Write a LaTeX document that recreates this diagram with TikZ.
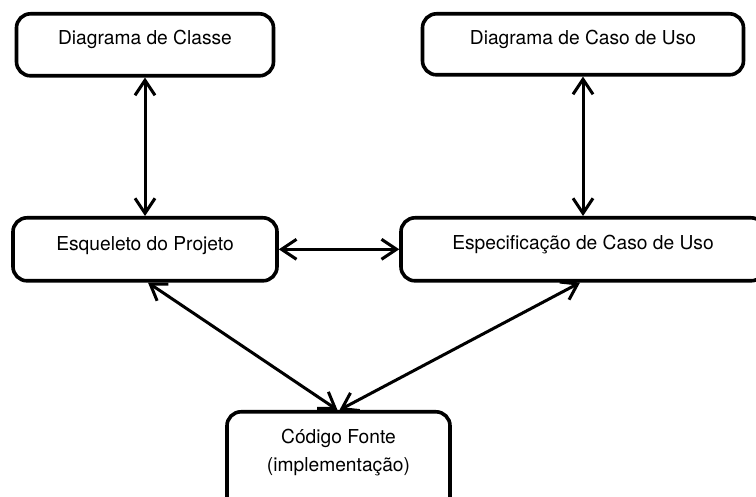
\documentclass[tikz,border=0pt]{standalone}
\usepackage{fontspec}
\setmainfont{TeX Gyre Heros}
\usetikzlibrary{arrows.meta}
\begin{document}
\begin{tikzpicture}[x=1pt,y=-1pt,
  box/.style={draw, line width=3.6pt, rounded corners=14pt, inner sep=0pt,
    anchor=north, font=\fontsize{19.2}{28}\selectfont},
  link/.style={line width=3pt,
    {Straight Barb[length=15pt,width=20pt]}-{Straight Barb[length=15pt,width=20pt]}}]
\useasboundingbox (0,0) rectangle (756,497);
\clip (0,0) rectangle (756,497);
\fill[white] (0,0) rectangle (756,497);
\node[box, minimum width=257pt, text height=31pt, text depth=31pt] (b1) at (145,12) {Diagrama de Classe};
\node[box, minimum width=321pt, text height=31pt, text depth=30pt] (b2) at (583,12) {Diagrama de Caso de Uso};
\node[box, minimum width=264pt, text height=33pt, text depth=30pt] (b3) at (145,216) {Esqueleto do Projeto};
\node[box, minimum width=364pt, text height=32pt, text depth=31pt] (b4) at (583,216) {Especificação de Caso de Uso};
\node[box, minimum width=223pt, text height=32pt, text depth=68pt] (b5) at (338.5,410)
  {\begin{tabular}[t]{@{}c@{}}Código Fonte\\(implementação)\end{tabular}};
\draw[link] (b1.south) -- (b3.north);
\draw[link] (b2.south) -- (b4.north);
\draw[link] (b3.east) -- (b4.west);
\draw[link] ([xshift=3pt]b3.south) -- ([xshift=-1pt]b5.north);
\draw[link] ([xshift=-3pt]b4.south) -- ([xshift=1pt]b5.north);
\end{tikzpicture}
\end{document}
